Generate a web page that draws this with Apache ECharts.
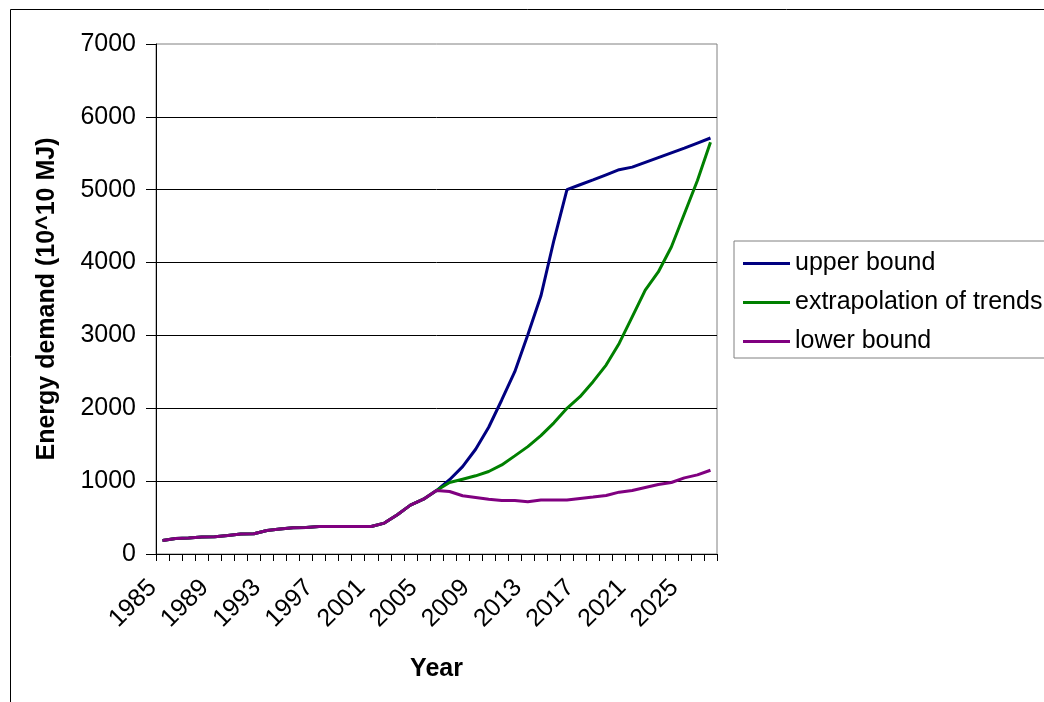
<!DOCTYPE html>
<html>
<head>
<meta charset="utf-8">
<script src="https://cdn.jsdelivr.net/npm/echarts@6/dist/echarts.min.js"></script>
<style>html,body{margin:0;padding:0;background:#fff}#c{width:1044px;height:702px}</style>
</head>
<body>
<div id="c"></div>
<script>
const years = [];
for (let y = 1985; y <= 2027; y++) years.push(String(y));

const upperBound = [186,214,219,233,237,255,274,278,323,342,360,365,378,378,378,378,378,424,538,671,753,871,
  1020,1200,1438,1740,2114,2502,3010,3540,4306,5000,5068,5135,5205,5275,5310,5375,5440,5505,5570,5640,5710];
const extrapolation = [186,214,219,233,237,255,274,278,323,342,360,365,378,378,378,378,378,424,538,671,753,871,
  981,1027,1073,1132,1223,1347,1474,1625,1800,2000,2159,2365,2593,2890,3255,3621,3871,4214,4671,5127,5652];
const lowerBound = [186,214,219,233,237,255,274,278,323,342,360,365,378,378,378,378,378,424,538,671,753,871,
  858,799,776,753,735,735,716,740,740,740,762,781,803,849,871,913,954,981,1045,1086,1150];

const seriesNames = ['upper bound', 'extrapolation of trends', 'lower bound'];
const colors = ['#000080', '#008000', '#800080'];
const FONT = '"Liberation Sans", Arial, sans-serif';

const chart = echarts.init(document.getElementById('c'), null, {renderer: 'canvas'});
chart.setOption({
  backgroundColor: '#ffffff',
  animation: false,
  textStyle: {fontFamily: FONT, color: '#000'},
  graphic: [{
    type: 'rect', left: 8, top: 7, z: -1,
    shape: {width: 1100, height: 800},
    style: {fill: 'none', stroke: '#000', lineWidth: 1}
  }],
  grid: {left: 156, right: 327, top: 44, bottom: 148, show: true, borderColor: '#808080', borderWidth: 1, backgroundColor: 'transparent'},
  legend: {
    orient: 'vertical', left: 734, top: 241,
    data: seriesNames,
    icon: 'rect', itemWidth: 47, itemHeight: 3, itemGap: 14,
    padding: [10, 20, 4, 9],
    borderColor: '#808080', borderWidth: 1,
    textStyle: {fontFamily: FONT, fontSize: 25, color: '#000'},
    selectedMode: false
  },
  xAxis: {
    type: 'category', data: years, boundaryGap: true,
    name: 'Year', nameLocation: 'middle', nameGap: 103,
    nameTextStyle: {fontFamily: FONT, fontSize: 25, fontWeight: 'bold', color: '#000'},
    axisLine: {lineStyle: {color: '#000', width: 1}},
    axisTick: {show: true, interval: 0, length: 7, lineStyle: {color: '#000'}},
    axisLabel: {interval: 3, rotate: 45, fontSize: 25, color: '#000', fontFamily: FONT, margin: 20, padding: [0, 14, 0, 0]},
    splitLine: {show: false}
  },
  yAxis: {
    type: 'value', min: 0, max: 7000, interval: 1000,
    name: 'Energy demand (10^10 MJ)', nameLocation: 'middle', nameGap: 96,
    nameTextStyle: {fontFamily: FONT, fontSize: 25, fontWeight: 'bold', color: '#000'},
    axisLine: {show: true, lineStyle: {color: '#000', width: 1}},
    axisTick: {show: true, length: 10, lineStyle: {color: '#000'}},
    axisLabel: {fontSize: 25, color: '#000', fontFamily: FONT, margin: 20, formatter: v => String(v)},
    splitLine: {show: true, showMaxLine: false, lineStyle: {color: '#000', width: 1}}
  },
  series: [
    {name: seriesNames[0], type: 'line', data: upperBound, symbol: 'none', lineStyle: {color: colors[0], width: 3}, itemStyle: {color: colors[0]}},
    {name: seriesNames[1], type: 'line', data: extrapolation, symbol: 'none', lineStyle: {color: colors[1], width: 3}, itemStyle: {color: colors[1]}},
    {name: seriesNames[2], type: 'line', data: lowerBound, symbol: 'none', lineStyle: {color: colors[2], width: 3}, itemStyle: {color: colors[2]}}
  ]
});
</script>
</body>
</html>
